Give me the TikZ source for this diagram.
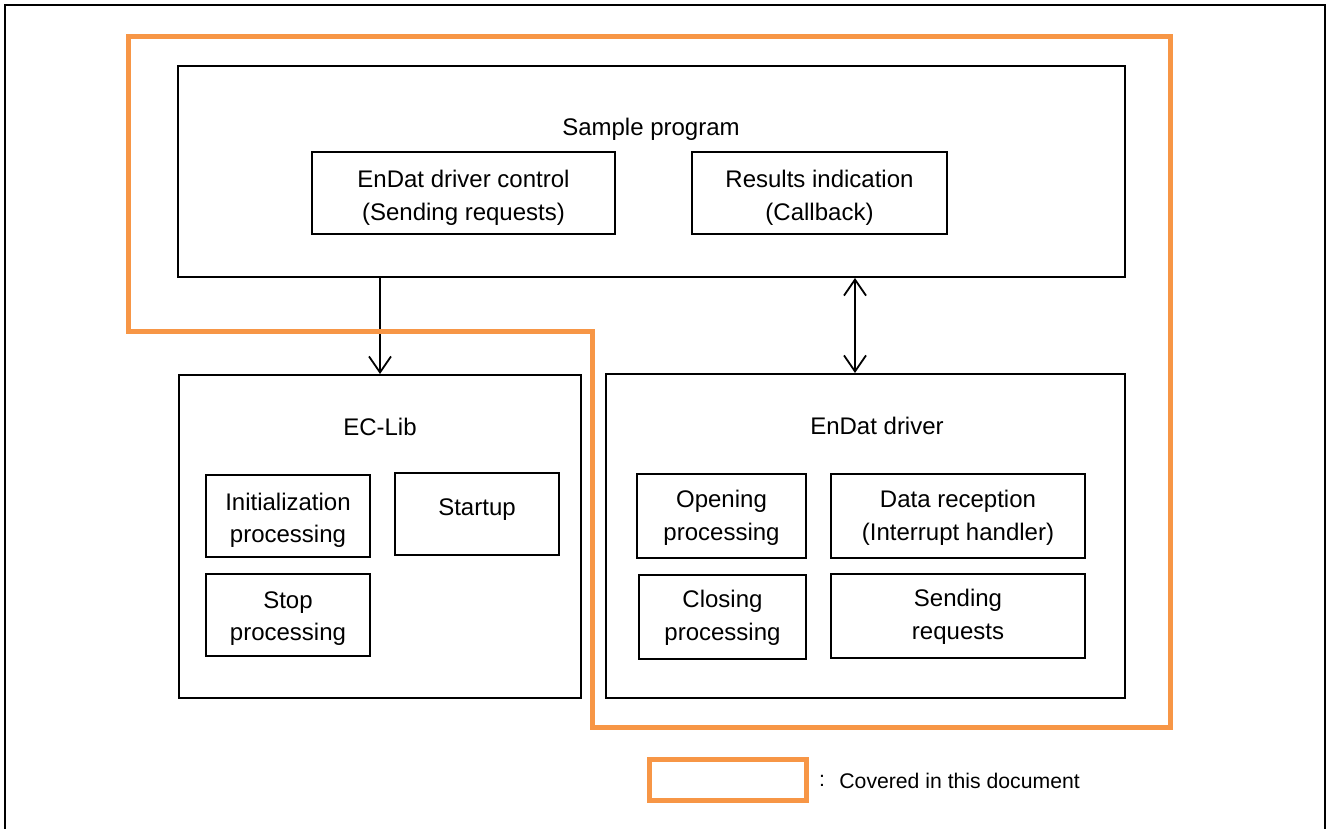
\documentclass[tikz,border=0pt]{standalone}
\usepackage{fontspec}
\setmainfont{Liberation Sans}
\usetikzlibrary{arrows.meta}
\definecolor{orng}{RGB}{247,150,70}
\tikzset{
  box/.style={draw=black, line width=1pt, inner sep=0pt},
  lbl/.style={inner sep=0pt, align=center, font=\fontsize{12}{16.3}\selectfont},
  arr/.style={line width=0.9pt, -{Straight Barb[length=8pt,width=11pt,line width=0.9pt]}},
  darr/.style={line width=0.9pt, {Straight Barb[length=8pt,width=11pt,line width=0.9pt]}-{Straight Barb[length=8pt,width=11pt,line width=0.9pt]}},
  scopeline/.style={draw=orng, line width=2.5pt},
}
\begin{document}
\begin{tikzpicture}[x=0.5pt,y=-0.5pt]
\useasboundingbox (0,0) rectangle (1328,829);
% outer frame
\draw[line width=1.1pt] (5,835) |- (1325,5) -- (1325,835);
% boxes
\node[box, minimum width=473.5pt, minimum height=105.5pt] (sample) at (651.5,171.5) {};
\node[lbl] (samplet) at (651,129) {Sample program};
\node[box, minimum width=151.5pt, minimum height=41pt,
  label={[lbl,yshift=-2.5pt]center:EnDat driver control\\ (Sending requests)}] (ctrl) at (463.5,193) {};
\node[box, minimum width=127.5pt, minimum height=41pt,
  label={[lbl,yshift=-2.5pt]center:Results indication\\(Callback)}] (res) at (819.5,193) {};
\node[box, minimum width=201pt, minimum height=161.5pt] (eclib) at (380,536.5) {};
\node[lbl] (eclibt) at (380,427) {EC-Lib};
\node[box, minimum width=82pt, minimum height=40.75pt,
  label={[lbl,yshift=-2.2pt]center:Initialization\\processing}] (init) at (288,515.75) {};
\node[box, minimum width=82pt, minimum height=41pt] (startup) at (477,514) {};
\node[lbl] (startupt) at (477,510) {Startup};
\node[box, minimum width=82pt, minimum height=41.25pt,
  label={[lbl,yshift=-2pt]center:Stop\\processing}] (stop) at (288,614.75) {};
\node[box, minimum width=259.5pt, minimum height=162pt] (endat) at (865.5,536) {};
\node[lbl] (endatt) at (877,426) {EnDat driver};
\node[box, minimum width=84.5pt, minimum height=42pt,
  label={[lbl,yshift=-1pt]center:Opening\\processing}] (open) at (721.5,516) {};
\node[box, minimum width=127.25pt, minimum height=42pt,
  label={[lbl,yshift=-1pt]center:Data reception\\(Interrupt handler)}] (data) at (958,516) {};
\node[box, minimum width=83.5pt, minimum height=41.75pt,
  label={[lbl,yshift=-0.5pt]center:Closing\\processing}] (close) at (722.5,616.75) {};
\node[box, minimum width=127.25pt, minimum height=42pt,
  label={[lbl,yshift=-0.5pt]center:Sending\\requests}] (send) at (958,616) {};
% connectors
\coordinate (a2) at (855,300);
\draw[arr] (eclib.north |- sample.south) -- (eclib.north);
\draw[darr] (a2 |- sample.south) -- (a2 |- endat.north);
% scope outline
\draw[scopeline] (128,37) -- (1170,37) -- (1170,727) -- (592,727) -- (592,331) -- (128,331) -- cycle;
% legend
\node[draw=orng, line width=2.5pt, minimum width=78.5pt, minimum height=20.5pt, inner sep=0pt] (legend) at (727.5,779.5) {};
\node[inner sep=0pt, font=\fontsize{10.6}{13}\selectfont] (colon) at (822,781) {:};
\node[inner sep=0pt, anchor=west, font=\fontsize{10.6}{13}\selectfont] (legendt) at (839,781) {Covered in this document};
\end{tikzpicture}
\end{document}
